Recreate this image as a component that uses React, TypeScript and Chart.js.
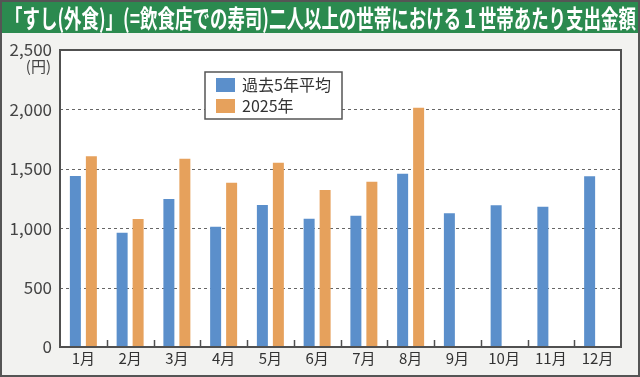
import React, { useEffect, useRef } from "react";
import { Chart, registerables } from "chart.js";

Chart.register(...registerables);

const months = ["1月", "2月", "3月", "4月", "5月", "6月", "7月", "8月", "9月", "10月", "11月", "12月"];
const avg5 = [1440, 962, 1245, 1013, 1195, 1080, 1105, 1459, 1125, 1193, 1181, 1437];
const y2025: (number | null)[] = [1605, 1077, 1585, 1383, 1551, 1321, 1391, 2014, null, null, null, null];
const seriesNames = ["過去5年平均", "2025年"];
const yTicks = [0, 500, 1000, 1500, 2000, 2500];
const gridValues = [500, 1000, 1500, 2000];
const titleText = "「すし(外食)」(=飲食店での寿司)二人以上の世帯における１世帯あたり支出金額";
const unitText = "(円)";

const BLUE = "#5b8fcb";
const ORANGE = "#e6a15c";
const GREEN = "#2b8a4f";
const BG = "#f2f2f0";
const AXIS = "#505050";
const FONT = "'Noto Sans CJK JP', 'Noto Sans', sans-serif";

const decorPlugin = {
  id: "decor",
  beforeDraw(chart: any) {
    const { ctx, width, height, chartArea } = chart;
    ctx.save();
    ctx.fillStyle = BG;
    ctx.fillRect(0, 0, width, height);
    ctx.fillStyle = GREEN;
    ctx.fillRect(0, 0, width, 33);
    ctx.font = `bold 25px ${FONT}`;
    ctx.fillStyle = "#ffffff";
    ctx.textBaseline = "middle";
    const w = ctx.measureText(titleText).width;
    const target = 631;
    ctx.save();
    ctx.translate(5, 18);
    ctx.scale(target / w, 1);
    ctx.fillText(titleText, 0, 0);
    ctx.restore();
    ctx.strokeStyle = "#555";
    ctx.lineWidth = 2;
    ctx.strokeRect(1, 1, width - 2, height - 2);
    ctx.fillStyle = "#ffffff";
    ctx.fillRect(chartArea.left, chartArea.top, chartArea.right - chartArea.left, chartArea.bottom - chartArea.top);
    ctx.restore();
  },
  beforeDatasetsDraw(chart: any) {
    const { ctx, chartArea, scales } = chart;
    ctx.save();
    ctx.strokeStyle = "#666";
    ctx.lineWidth = 1;
    ctx.setLineDash([3, 3]);
    for (const v of gridValues) {
      const py = Math.round(scales.y.getPixelForValue(v)) + 0.5;
      ctx.beginPath();
      ctx.moveTo(chartArea.left, py);
      ctx.lineTo(chartArea.right, py);
      ctx.stroke();
    }
    ctx.restore();
  },
  afterDatasetsDraw(chart: any) {
    const { ctx, chartArea, scales } = chart;
    ctx.save();
    ctx.strokeStyle = AXIS;
    ctx.lineWidth = 2;
    ctx.strokeRect(chartArea.left, chartArea.top, chartArea.right - chartArea.left, chartArea.bottom - chartArea.top);
    const xs = scales.x;
    const n = months.length;
    const step = (chartArea.right - chartArea.left) / n;
    ctx.lineWidth = 1.5;
    for (let i = 1; i < n; i++) {
      const px = Math.round(xs.getPixelForValue(i) - step / 2) + 0.5;
      ctx.beginPath();
      ctx.moveTo(px, chartArea.bottom);
      ctx.lineTo(px, chartArea.bottom - 7);
      ctx.stroke();
    }
    ctx.fillStyle = "#444";
    ctx.font = `15px ${FONT}`;
    ctx.textAlign = "right";
    ctx.textBaseline = "middle";
    ctx.fillText(unitText, 51, 66);
    const lx = 205, ly = 72, lw = 137, lh = 47;
    ctx.fillStyle = "#ffffff";
    ctx.fillRect(lx, ly, lw, lh);
    ctx.strokeStyle = "#555";
    ctx.lineWidth = 1.5;
    ctx.strokeRect(lx, ly, lw, lh);
    const colors = [BLUE, ORANGE];
    ctx.font = `16px ${FONT}`;
    ctx.textAlign = "left";
    for (let i = 0; i < 2; i++) {
      const ry = 78 + i * 21;
      ctx.fillStyle = colors[i];
      ctx.fillRect(216, ry, 19, 14);
      ctx.fillStyle = "#333";
      ctx.fillText(seriesNames[i], 242, ry + 7);
    }
    ctx.restore();
  },
};

export default function App() {
  const ref = useRef<HTMLCanvasElement>(null);
  useEffect(() => {
    document.body.style.margin = "0";
    const chart = new Chart(ref.current!, {
      type: "bar",
      data: {
        labels: months,
        datasets: [
          { label: seriesNames[0], data: avg5, backgroundColor: BLUE },
          { label: seriesNames[1], data: y2025, backgroundColor: ORANGE },
        ],
      },
      options: {
        animation: false,
        responsive: false,
        devicePixelRatio: 1,
        categoryPercentage: 0.684,
        barPercentage: 0.6875,
        layout: { padding: { top: 50, right: 19, left: 0, bottom: 0 } },
        plugins: { legend: { display: false }, tooltip: { enabled: false } },
        scales: {
          x: {
            grid: { display: false, drawTicks: false },
            border: { display: true, color: AXIS, width: 2 },
            ticks: { color: "#333", font: { family: FONT, size: 15 }, padding: 2 },
            afterFit(s: any) { s.height = 30; },
          },
          y: {
            min: 0,
            max: 2500,
            afterBuildTicks(s: any) { s.ticks = yTicks.map((v) => ({ value: v })); },
            grid: { display: false, drawTicks: false },
            border: { display: true, color: AXIS, width: 2 },
            ticks: {
              color: "#444",
              font: { family: FONT, size: 17 },
              padding: 8,
              callback: (v: any) => Number(v).toLocaleString("en-US"),
            },
            afterFit(s: any) { s.width = 60; },
          },
        },
      },
      plugins: [decorPlugin],
    });
    return () => chart.destroy();
  }, []);
  return (
    <div style={{ position: "fixed", left: 0, top: 0, width: 640, height: 377 }}>
      <canvas ref={ref} width={640} height={377} style={{ width: 640, height: 377, display: "block" }} />
    </div>
  );
}
